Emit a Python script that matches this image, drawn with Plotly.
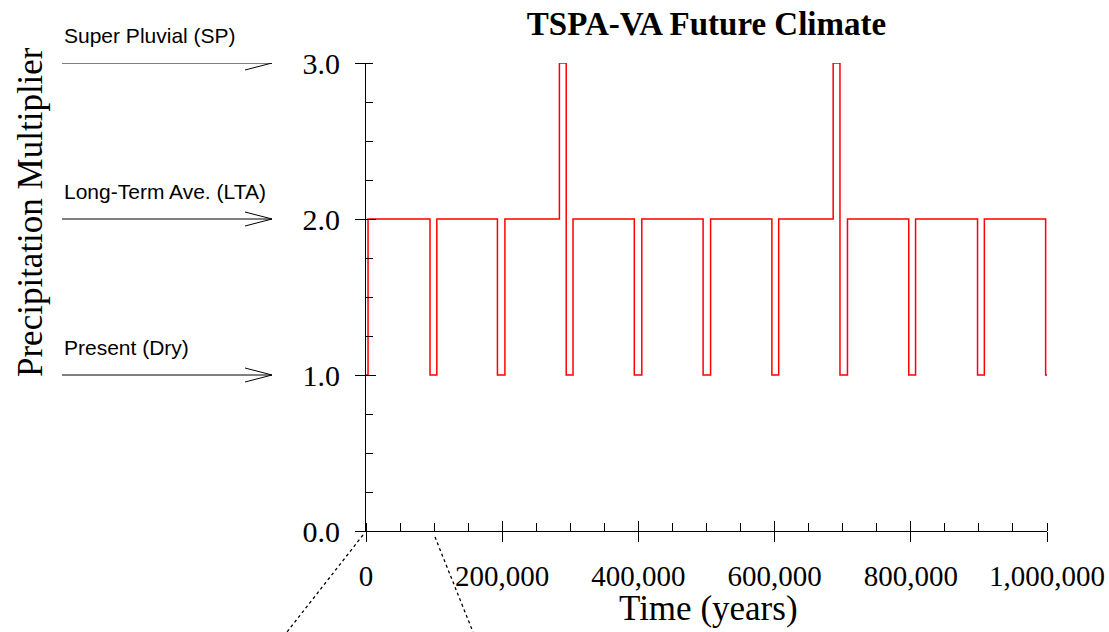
import plotly.graph_objects as go

# Step data: time (years) at which the climate state begins, and its multiplier
change_years = [0, 3000, 94000, 104000, 193000, 204000, 284000, 294000, 304000,
                394000, 405000, 495000, 506000, 596000, 606000, 686000, 696000,
                707000, 797000, 807000, 898000, 908000, 998000, 1000000]
multiplier = [1.0, 2.0, 1.0, 2.0, 1.0, 2.0, 3.0, 1.0, 2.0,
              1.0, 2.0, 1.0, 2.0, 1.0, 2.0, 3.0, 1.0,
              2.0, 1.0, 2.0, 1.0, 2.0, 1.0, 1.0]

climate_labels = ["Super Pluvial (SP)", "Long-Term Ave. (LTA)", "Present (Dry)"]
climate_levels = [3.0, 2.0, 1.0]

x_tickvals = [0, 200000, 400000, 600000, 800000, 1000000]
x_ticktext = ["0", "200,000", "400,000", "600,000", "800,000", "1,000,000"]
y_tickvals = [0, 1, 2, 3]
y_ticktext = ["0.0", "1.0", "2.0", "3.0"]

SERIF = "Liberation Serif, Times New Roman, serif"
SANS = "Liberation Sans, Arial, sans-serif"

fig = go.Figure()
fig.add_trace(go.Scatter(x=change_years, y=multiplier, mode="lines",
                         line=dict(color="#ff0000", width=1.5, shape="hv"),
                         showlegend=False, hoverinfo="skip"))
# invisible trace on overlay axes (for crossing ticks)
fig.add_trace(go.Scatter(x=[0], y=[0], xaxis="x2", yaxis="y2", mode="markers",
                         marker=dict(opacity=0), showlegend=False, hoverinfo="skip"))

W, H = 1109, 632
L, T = 366, 63
pw, ph = 681, 468
R, B = W - L - pw, H - T - ph

def px_to_paper_x(px):
    return (px - L) / pw

def px_to_paper_y(py):
    return (T + ph - py) / ph

shapes = []
annotations = []
for lab, lev in zip(climate_labels, climate_levels):
    x0 = px_to_paper_x(62)
    x1 = px_to_paper_x(272)
    xa = px_to_paper_x(245)
    dy = 7 / ph * 3.0
    shapes.append(dict(type="line", xref="paper", yref="y", x0=x0, x1=x1, y0=lev, y1=lev,
                       line=dict(color="black", width=1)))
    shapes.append(dict(type="path", xref="paper", yref="y",
                       path=f"M {xa},{lev + dy} L {x1},{lev} L {xa},{lev - dy}",
                       line=dict(color="black", width=1)))
    annotations.append(dict(text=lab, xref="paper", yref="y", x=x0, y=lev,
                            xanchor="left", yanchor="bottom", yshift=14, showarrow=False,
                            font=dict(family=SANS, size=21, color="black")))

# y-axis title
annotations.append(dict(text="Precipitation Multiplier", xref="paper", yref="paper",
                        x=px_to_paper_x(30), y=px_to_paper_y(212), textangle=-90,
                        xanchor="center", yanchor="middle", showarrow=False,
                        font=dict(family=SERIF, size=35, color="black")))

# x-axis title
annotations.append(dict(text="Time (years)", xref="paper", yref="paper",
                        x=px_to_paper_x(708), y=px_to_paper_y(608),
                        xanchor="center", yanchor="middle", showarrow=False,
                        font=dict(family=SERIF, size=35, color="black")))

# dotted zoom lines
for (ax, ay, bx, by) in [(363, 535, 287, 632), (435, 537, 473, 632)]:
    shapes.append(dict(type="line", xref="paper", yref="paper",
                       x0=px_to_paper_x(ax), y0=px_to_paper_y(ay),
                       x1=px_to_paper_x(bx), y1=px_to_paper_y(by),
                       line=dict(color="black", width=1.3, dash="dot")))

axis_common = dict(showgrid=False, zeroline=False, showline=True, linecolor="black",
                   linewidth=1, tickcolor="black", tickwidth=1, automargin=False)

fig.update_layout(
    width=W, height=H,
    margin=dict(l=L, r=R, t=T, b=B, autoexpand=False),
    plot_bgcolor="white", paper_bgcolor="white",
    title=dict(text="<b>TSPA-VA Future Climate</b>", x=0.5, xref="paper", xanchor="center",
               y=1 - 23 / H, yanchor="middle",
               font=dict(family=SERIF, size=33, color="black")),
    xaxis=dict(range=[0, 1000000], tickvals=x_tickvals, ticktext=x_ticktext,
               ticks="outside", ticklen=10, ticklabelstandoff=9,
               minor=dict(ticks="inside", dtick=50000, tick0=0, ticklen=8,
                          tickcolor="black", tickwidth=1),
               tickfont=dict(family=SERIF, size=29, color="black"),
               **axis_common),
    yaxis=dict(range=[0, 3], tickvals=y_tickvals, ticktext=y_ticktext,
               ticks="outside", ticklen=10, ticklabelstandoff=9,
               minor=dict(ticks="inside", dtick=0.25, tick0=0, ticklen=7,
                          tickcolor="black", tickwidth=1),
               tickfont=dict(family=SERIF, size=30, color="black"),
               **axis_common),
    xaxis2=dict(range=[0, 1000000], overlaying="x", anchor="y2", tickvals=x_tickvals,
                ticks="inside", ticklen=10, showticklabels=False, showgrid=False,
                zeroline=False, showline=False, tickcolor="black", tickwidth=1),
    yaxis2=dict(range=[0, 3], overlaying="y", anchor="x2", tickvals=y_tickvals,
                ticks="inside", ticklen=10, showticklabels=False, showgrid=False,
                zeroline=False, showline=False, tickcolor="black", tickwidth=1),
    shapes=shapes, annotations=annotations,
)

fig.write_html("out.html", config={"displayModeBar": False},
               post_script="document.body.style.margin='0px';document.body.style.overflow='hidden';")
